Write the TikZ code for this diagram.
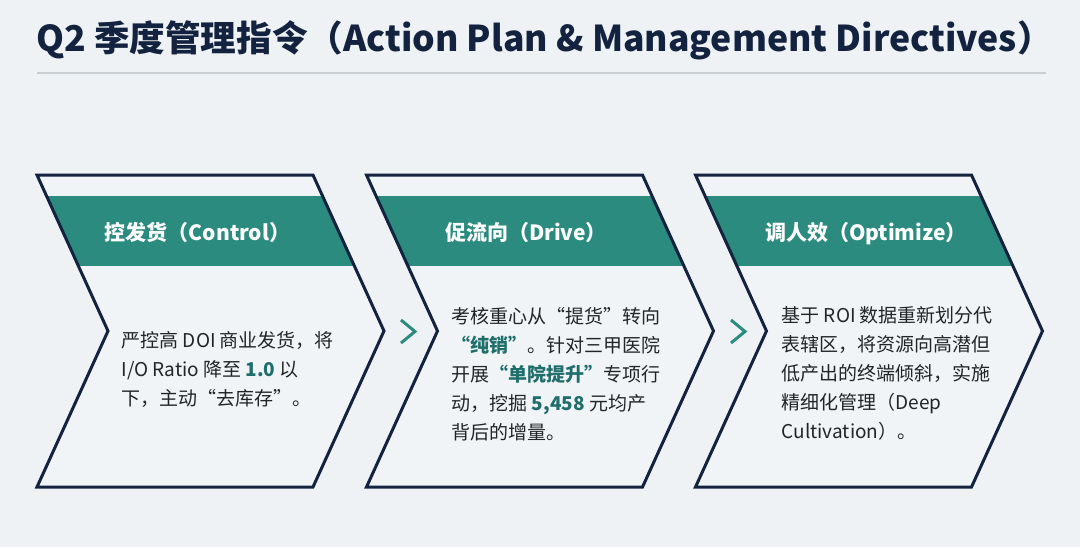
\documentclass[tikz,border=0pt]{standalone}
\usepackage{fontspec}
\setmainfont{Noto Sans CJK SC}
\definecolor{bgc}{HTML}{EEF2F5}
\definecolor{boxc}{HTML}{F1F4F6}
\definecolor{navy}{HTML}{13233F}
\definecolor{teal}{HTML}{2A8B7E}
\definecolor{hitxt}{HTML}{1F6E6B}
\definecolor{bodyc}{HTML}{222426}
\definecolor{rulec}{HTML}{C9CED2}
\newcommand{\oq}{\makebox[1em][r]{“}}
\newcommand{\cq}{\makebox[1em][l]{”}}
\newcommand{\hl}[1]{{\bfseries\color{hitxt}#1}}
\tikzset{
  chev/.style={draw=navy,line width=3pt,fill=boxc,line join=miter},
  headtxt/.style={text=white,font=\fontsize{21}{25}\selectfont\bfseries,inner sep=0pt,anchor=base},
  bodytxt/.style={text=bodyc,font=\fontsize{19}{29}\selectfont,inner sep=0pt,anchor=north west,align=left},
  sarrow/.style={draw=teal,line width=3pt,line join=miter,line cap=butt},
}
\begin{document}
\begin{tikzpicture}[x=1pt,y=-1pt]
\fill[bgc] (0,0) rectangle (1080,547);
\useasboundingbox (0,0) rectangle (1080,547);
% title
\node[anchor=base west,inner sep=0pt,text=navy,font=\fontsize{35.6}{42}\selectfont\bfseries] (title) at (36,51.5) {Q2 季度管理指令（Action Plan \& Management Directives）};
\draw[rulec,line width=2pt] (37,73) -- (1046,73);
% chevrons
\foreach \L/\n in {37/1,366.5/2,695.5/3}{
  \begin{scope}
    \clip (\L,175) -- (\L+276,175) -- (\L+347,331) -- (\L+276,487) -- (\L,487) -- (\L+71,331) -- cycle;
    \fill[boxc] (\L-10,170) rectangle (\L+360,490);
    \fill[teal] (\L-10,195.5) rectangle (\L+360,266);
  \end{scope}
  \draw[chev,fill=none] (\L,175) -- (\L+276,175) -- (\L+347,331) -- (\L+276,487) -- (\L,487) -- (\L+71,331) -- cycle;
}
% small arrows
\coordinate (a1) at (408,331.5);
\coordinate (a2) at (738,331.5);
\foreach \a in {a1,a2}{
  \draw[sarrow] ([shift={(-7,-11.5)}]\a) -- ([shift={(7,0)}]\a) -- ([shift={(-7,11.5)}]\a);
}
% headers
\node[headtxt] (h1) at (197.5,240.5) {控发货（Control）};
\node[headtxt] (h2) at (526,240.5) {促流向（Drive）};
\node[headtxt] (h3) at (866,240.5) {调人效（Optimize）};
% bodies
\node[bodytxt] (b1) at (121.5,331) {严控高 DOI 商业发货，将\\I/O Ratio 降至 \hl{1.0} 以\\下，主动\oq 去库存\cq。};
\node[bodytxt] (b2) at (451.5,307) {考核重心从\oq 提货\cq 转向\\\hl{\oq 纯销\cq}。针对三甲医院\\开展\hl{\oq 单院提升\cq}专项行\\动，挖掘 \hl{5,458} 元均产\\背后的增量。};
\node[bodytxt] (b3) at (781.5,306) {基于 ROI 数据重新划分代\\表辖区，将资源向高潜但\\低产出的终端倾斜，实施\\精细化管理（Deep\\Cultivation）。};
\end{tikzpicture}
\end{document}
